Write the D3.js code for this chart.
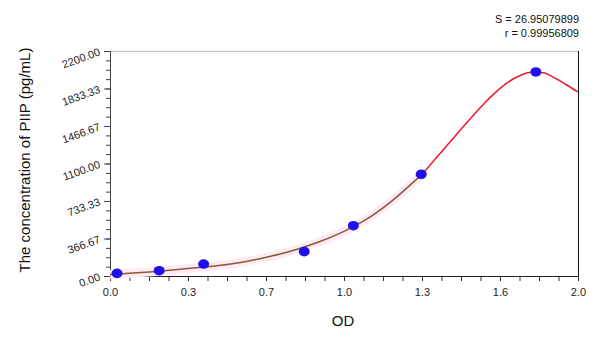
<!DOCTYPE html>
<html>
<head>
<meta charset="utf-8">
<script src="https://cdn.jsdelivr.net/npm/d3@7"></script>
<style>
  body { margin: 0; background: #fff; }
  svg { display: block; font-family: "Liberation Sans", Arial, sans-serif; }
</style>
</head>
<body>
<svg id="chart" width="600" height="337"></svg>
<script>
// standard points (OD, pg/mL)
const pointOD = [0.03, 0.21, 0.40, 0.83, 1.04, 1.33, 1.82]
const pointConc = [26, 52, 117, 238, 492, 995, 1995]

// fitted curve, lower part (brown) and upper part (red)
const fitLowOD = [0.0, 0.1, 0.2, 0.3, 0.4, 0.5, 0.6, 0.7, 0.8, 0.9, 1.0, 1.1, 1.2, 1.3, 1.333]
const fitLowConc = [13, 29, 45, 65, 87, 113, 150, 200, 262, 340, 437, 560, 725, 925, 992]
const fitHighOD = [1.333, 1.4, 1.45, 1.5, 1.55, 1.6, 1.65, 1.7, 1.75, 1.8, 1.85, 1.9, 1.95, 2.0]
const fitHighConc = [992, 1170, 1302, 1435, 1565, 1690, 1800, 1893, 1958, 1992, 1987, 1937, 1870, 1799]

const xTicks = [0, 1 / 3, 2 / 3, 1, 4 / 3, 5 / 3, 2]
const xTickLabels = ["0.0", "0.3", "0.7", "1.0", "1.3", "1.6", "2.0"]
const yTicks = [0, 2200 / 6, 4400 / 6, 1100, 8800 / 6, 11000 / 6, 2200]
const yTickLabels = ["0.00", "366.67", "733.33", "1100.00", "1466.67", "1833.33", "2200.00"]
const statsLines = ["S = 26.95079899", "r = 0.99956809"]

const svg = d3.select("#chart")
const plotLeft = 110, plotRight = 578, plotTop = 51, plotBottom = 276

const x = d3.scaleLinear().domain([0, 2]).range([plotLeft, plotRight])
const y = d3.scaleLinear().domain([0, 2200]).range([plotBottom, plotTop])

// frame: light top, dark right
svg.append("line")
  .attr("x1", plotLeft).attr("x2", plotRight).attr("y1", plotTop + 0.5).attr("y2", plotTop + 0.5)
  .attr("stroke", "#c8c8c8").attr("stroke-width", 1.5)
svg.append("line")
  .attr("x1", plotRight + 0.5).attr("x2", plotRight + 0.5).attr("y1", plotTop).attr("y2", plotBottom)
  .attr("stroke", "#111").attr("stroke-width", 1)

// minor ticks (4 subdivisions between majors)
const xMinor = d3.range(0, 25).map((i) => (i * 2) / 24)
const yMinor = d3.range(0, 25).map((i) => (i * 2200) / 24)

const gx = svg.append("g").attr("transform", `translate(0,${plotBottom})`)
gx.append("g")
  .call(d3.axisBottom(x).tickValues(xMinor).tickSize(5).tickFormat(""))
gx.append("g")
  .call(d3.axisBottom(x).tickValues(xTicks).tickSize(5).tickPadding(7)
    .tickFormat((d, i) => xTickLabels[i]))
gx.selectAll("path.domain").attr("stroke", "#222")
gx.selectAll("line").attr("stroke", "#333")
gx.selectAll("text").attr("font-size", 11).attr("fill", "#222")
  .attr("font-family", "Liberation Sans, Arial, sans-serif")

const gy = svg.append("g").attr("transform", `translate(${plotLeft},0)`)
gy.append("g")
  .call(d3.axisLeft(y).tickValues(yMinor).tickSize(4).tickFormat(""))
gy.append("g")
  .call(d3.axisLeft(y).tickValues(yTicks).tickSize(6).tickFormat(""))
gy.selectAll("path.domain").attr("stroke", "#444")
gy.selectAll("line").attr("stroke", "#444")

// rotated y labels
svg.append("g")
  .selectAll("text")
  .data(yTicks)
  .enter()
  .append("text")
  .attr("transform", (d) => `translate(101,${y(d) + 4}) rotate(-20)`)
  .attr("text-anchor", "end")
  .attr("font-size", 11)
  .attr("fill", "#222")
  .text((d, i) => yTickLabels[i])

// fitted curve
const line = d3.line()
  .x((d) => x(d[0]))
  .y((d) => y(d[1]))
  .curve(d3.curveMonotoneX)

const low = fitLowOD.map((v, i) => [v, fitLowConc[i]])
const high = fitHighOD.map((v, i) => [v, fitHighConc[i]])

// faint pink band behind the lower curve
svg.append("path")
  .attr("d", line(low))
  .attr("fill", "none")
  .attr("stroke", "#fdeaf7")
  .attr("stroke-width", 9)

svg.append("path")
  .attr("d", line(low))
  .attr("fill", "none")
  .attr("stroke", "#8a5a2e")
  .attr("stroke-width", 1.5)

svg.append("path")
  .attr("d", line(high))
  .attr("fill", "none")
  .attr("stroke", "#f5142c")
  .attr("stroke-width", 1.5)

// points
svg.append("g")
  .selectAll("ellipse")
  .data(pointOD)
  .enter()
  .append("ellipse")
  .attr("cx", (d) => x(d))
  .attr("cy", (d, i) => y(pointConc[i]))
  .attr("rx", 5.5)
  .attr("ry", 4.8)
  .attr("fill", "#1e10e8")

// axis titles
svg.append("text")
  .attr("transform", "translate(30,160) rotate(-90)")
  .attr("text-anchor", "middle")
  .attr("font-size", 15)
  .attr("fill", "#111")
  .text("The concentration of PIIP (pg/mL)")

svg.append("text")
  .attr("x", 343).attr("y", 326)
  .attr("text-anchor", "middle")
  .attr("font-size", 15)
  .attr("fill", "#111")
  .text("OD")

// fit statistics
svg.append("g")
  .selectAll("text")
  .data(statsLines)
  .enter()
  .append("text")
  .attr("x", 579)
  .attr("y", (d, i) => 23 + i * 14)
  .attr("text-anchor", "end")
  .attr("font-size", 11)
  .attr("fill", "#111")
  .text((d) => d)
</script>
</body>
</html>
